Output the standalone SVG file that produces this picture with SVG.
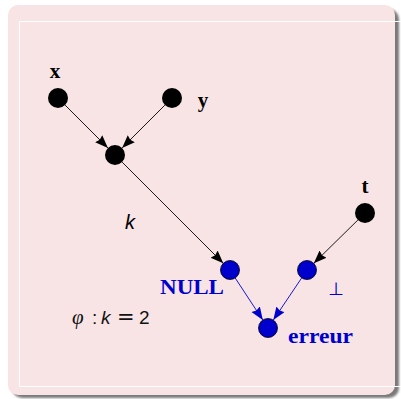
<svg xmlns="http://www.w3.org/2000/svg" width="401" height="399" viewBox="0 0 401 399">
<style>
.bold{font-family:"Liberation Serif",serif;font-weight:bold;font-size:21px}
.blk{fill:#000}
.blu{fill:#0000cc}
.e{stroke:#000;stroke-width:0.9;fill:none}
.eb{stroke:#0000cc;stroke-width:0.9;fill:none}
.nb{fill:#000}
.nu{fill:#0000cc;stroke:#000;stroke-width:0.8}
</style>
<defs>
<filter id="sh" x="-5%" y="-5%" width="110%" height="110%"><feGaussianBlur stdDeviation="1.2"/></filter>
<marker id="ak" markerUnits="userSpaceOnUse" markerWidth="16" markerHeight="12" refX="13" refY="5" orient="auto"><path d="M0,0 L13,5 L0,10 L1.5,5 z" fill="#000"/></marker>
<marker id="ab" markerUnits="userSpaceOnUse" markerWidth="16" markerHeight="12" refX="13" refY="5" orient="auto"><path d="M0,0 L13,5 L0,10 L1.5,5 z" fill="#0000cc"/></marker>
</defs>
<rect x="0" y="0" width="401" height="399" fill="#fff"/>
<rect x="12" y="9" width="387" height="389" rx="10" fill="#7a7a7a" filter="url(#sh)"/>
<rect x="8" y="5" width="387" height="390" rx="10" fill="#f8e4e5"/>
<g stroke="#fff" stroke-width="1" fill="none">
<path d="M19.5,21.5 H401 M19.5,21.5 V386.5 M19.5,386.5 H401"/>
</g>
<g id="connectors">
<line class="e" x1="65.1" y1="105.1" x2="107.9" y2="147.9" marker-end="url(#ak)"/>
<line class="e" x1="164.9" y1="105.1" x2="122.1" y2="147.9" marker-end="url(#ak)"/>
<line class="e" x1="122.1" y1="162.1" x2="223.3" y2="263.3" marker-end="url(#ak)"/>
<line class="e" x1="357.9" y1="220" x2="313.8" y2="263.3" marker-end="url(#ak)"/>
<line class="eb" x1="235.2" y1="278" x2="262.8" y2="320" marker-end="url(#ab)"/>
<line class="eb" x1="301.7" y1="277.9" x2="273.3" y2="320.1" marker-end="url(#ab)"/>
</g>
<g id="node-x"><circle class="nb" cx="58" cy="98" r="10"/><text class="bold blk" x="55" y="78" text-anchor="middle">x</text></g>
<g id="node-y"><circle class="nb" cx="172" cy="98" r="10"/><text class="bold blk" x="203" y="107" text-anchor="middle">y</text></g>
<g id="node-mid"><circle class="nb" cx="115" cy="155" r="10"/></g>
<g id="node-t"><circle class="nb" cx="365" cy="213" r="10"/><text class="bold blk" x="365" y="193" text-anchor="middle">t</text></g>
<g id="node-null"><circle class="nu" cx="230" cy="270" r="9.5"/><text class="bold blu" x="160" y="294" textLength="64" lengthAdjust="spacingAndGlyphs">NULL</text></g>
<g id="node-bot"><circle class="nu" cx="307" cy="270" r="9.5"/><text x="336" y="295" text-anchor="middle" font-family="DejaVu Sans,sans-serif" font-size="18" fill="#0000cc">⊥</text></g>
<g id="node-erreur"><circle class="nu" cx="268" cy="328" r="9.5"/><text class="bold blu" x="288" y="343" textLength="65" lengthAdjust="spacingAndGlyphs">erreur</text></g>
<text x="130" y="229" text-anchor="middle" font-family="Liberation Sans,sans-serif" font-style="italic" font-size="20">k</text>
<text x="72" y="324" font-family="Liberation Sans,sans-serif" font-size="19" fill="#111"><tspan font-family="Liberation Serif,serif" font-style="italic" font-size="21">φ</tspan><tspan x="92">:</tspan><tspan x="101" font-style="italic">k</tspan><tspan x="117" font-family="DejaVu Sans,sans-serif" font-size="21">=</tspan><tspan x="139">2</tspan></text>
</svg>
